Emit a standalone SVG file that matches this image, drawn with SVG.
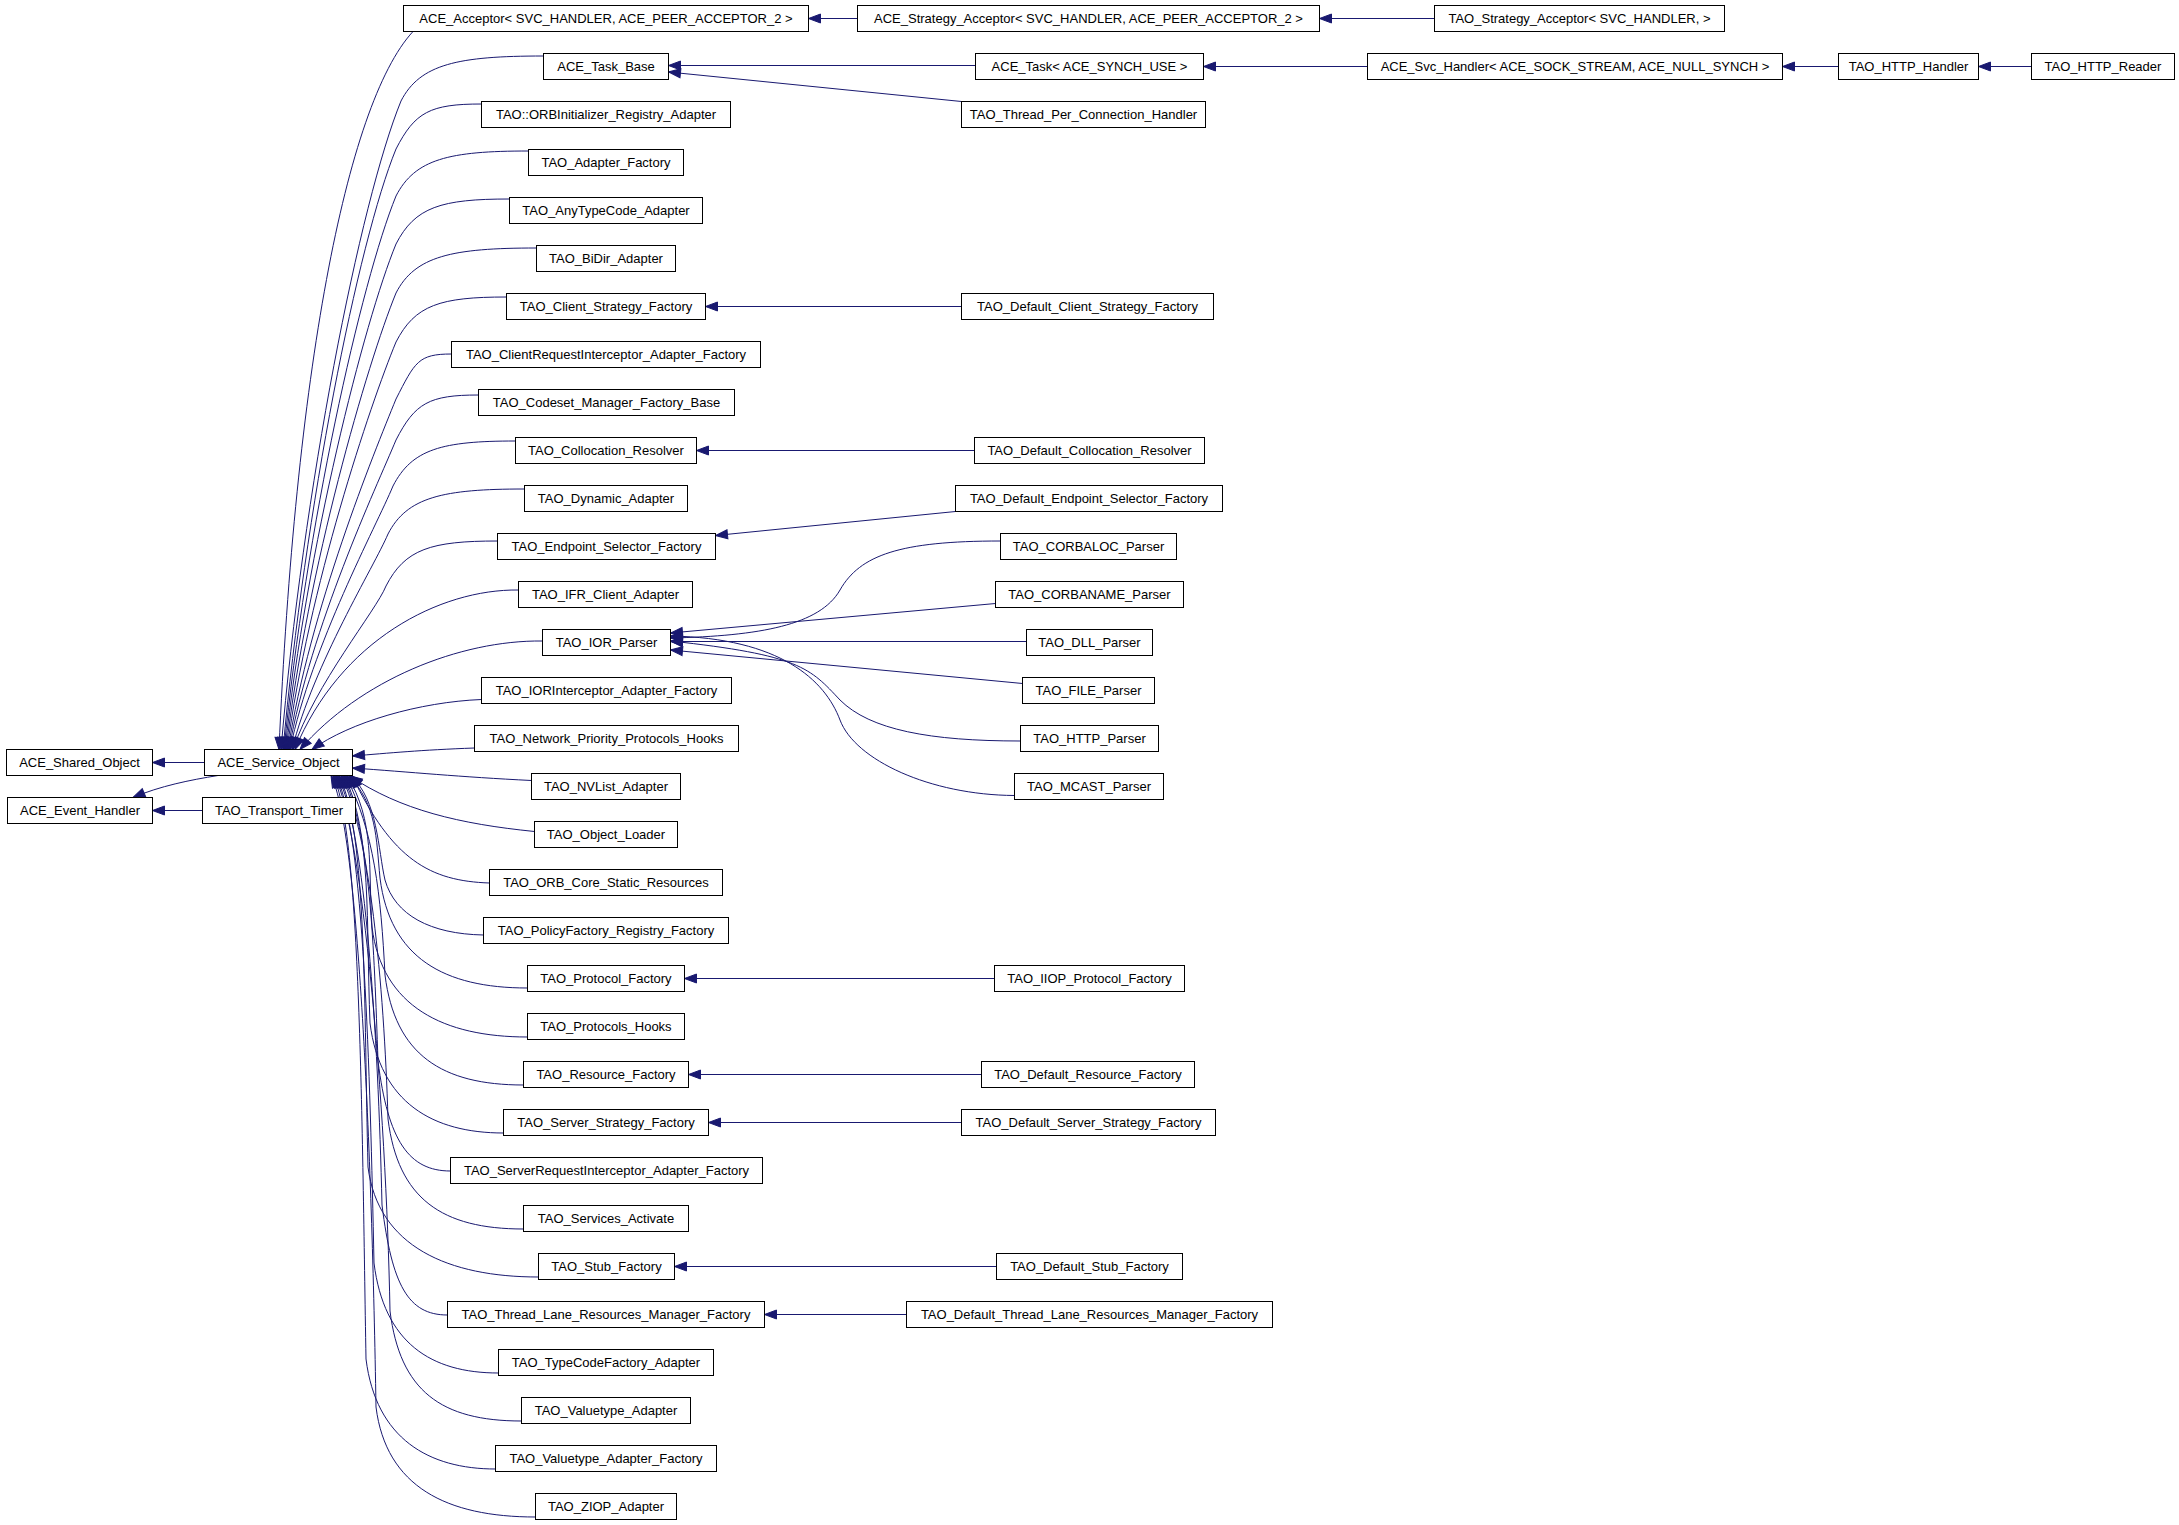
<svg xmlns="http://www.w3.org/2000/svg" width="2179" height="1525" viewBox="0 0 2179 1525">
<style>
.b{fill:#fff;stroke:#000;stroke-width:1}
.t{font-family:"Liberation Sans",Arial,sans-serif;font-size:13px;fill:#000;text-anchor:middle}
.e{fill:none;stroke:#191970;stroke-width:1;marker-end:url(#ah)}
</style>
<defs>
<marker id="ah" markerUnits="userSpaceOnUse" markerWidth="14" markerHeight="10" refX="12" refY="4.5" orient="auto" viewBox="0 0 14 10" overflow="visible">
<path d="M0,0 L12,4.5 L0,9 z" fill="#191970" stroke="#191970" stroke-width="1"/>
</marker>
</defs>
<rect width="2179" height="1525" fill="#fff"/>
<g id="connectors">
<path class="e" d="M857.5,18.5 H808.5"/>
<path class="e" d="M1434.5,18.5 H1319.5"/>
<path class="e" d="M975.5,65.5 H668.5"/>
<path class="e" d="M961.5,101.5 L668.5,72"/>
<path class="e" d="M1367.5,66.5 H1203.5"/>
<path class="e" d="M1838.5,66.5 H1782.5"/>
<path class="e" d="M2031.5,66.5 H1978.5"/>
<path class="e" d="M961.5,306.5 H705.5"/>
<path class="e" d="M974.5,450.5 H696.5"/>
<path class="e" d="M955.5,511.5 L715.5,535.5"/>
<path class="e" d="M994.5,978.5 H684.5"/>
<path class="e" d="M981.5,1074.5 H688.5"/>
<path class="e" d="M961.5,1122.5 H708.5"/>
<path class="e" d="M996.5,1266.5 H674.5"/>
<path class="e" d="M906.5,1314.5 H764.5"/>
<path class="e" d="M1000.5,541 C900,541 860,555 840,590 C820,625 760,636 670.5,638"/>
<path class="e" d="M995.5,603.5 L670.5,633"/>
<path class="e" d="M1026.5,641.5 H670.5"/>
<path class="e" d="M1022.5,683.5 L670.5,650"/>
<path class="e" d="M1020.5,741 C930,741 870,730 840,700 C810,668 800,655 670.5,641"/>
<path class="e" d="M1014.5,795.5 C930,795 855,760 840,720 C825,680 780,638 670.5,636"/>
<path class="e" d="M204.5,762.5 H152.5"/>
<path class="e" d="M202.5,810.5 H152.5"/>
<path class="e" d="M218,775.5 C190,780 160,786 133,797.5"/>
<path class="e" d="M413,31.5 C345,105 295,380 279,749.5"/>
<path class="e" d="M543.5,56 C458,56 420,64 401,101 C360,201.5 303,490 281,749.5"/>
<path class="e" d="M481.5,104 C430,104 415,112 396,149 C358,242 305,509 283,749.5"/>
<path class="e" d="M528.5,151 C449,151 415,159 396,196 C361,282 306,528 284,749.5"/>
<path class="e" d="M509.5,199 C441,199 415,207 396,244 C364,322 307,547 285,749.5"/>
<path class="e" d="M536.5,248 C452,248 415,256 396,293 C367,364 308,567 286,749.5"/>
<path class="e" d="M506.5,297 C440,297 415,305 396,342 C370,405 309,586.5 287,749.5"/>
<path class="e" d="M451.5,354 C418,354 415,362 396,399 C374,453 310,609 288,749.5"/>
<path class="e" d="M478.5,395 C429,395 415,403 396,440 C376,488 311,626 289,749.5"/>
<path class="e" d="M515.5,441 C442,441 412,449 393,486 C376,527 312,644 290,749.5"/>
<path class="e" d="M524.5,489 C443,489 407,497 388,534 C374,567 314,663 292,749.5"/>
<path class="e" d="M497.5,541 C431,541 405,549 386,586 C376,611 315,684 293,749.5"/>
<path class="e" d="M518.5,590 C440,589 340,640 295,749.5"/>
<path class="e" d="M542.5,641 C460,640 360,680 300,749.5"/>
<path class="e" d="M481.5,699.5 C420,702 350,722 312,749.5"/>
<path class="e" d="M474.5,748 C420,750 390,753 352.5,756"/>
<path class="e" d="M531.5,780.5 C460,777 410,772 352.5,768"/>
<path class="e" d="M534.5,831.5 C460,824 400,810 350,776"/>
<path class="e" d="M489.5,883 C430,881 392,860 352,775.5"/>
<path class="e" d="M483.5,935 C430,934 395,915 385,880 C378,850 378,800 350.5,775.5"/>
<path class="e" d="M527.5,988 C444,988 390,958 380,878 C376,837 377,806 349,775.5"/>
<path class="e" d="M527.5,1037 C444,1037 382,1007 372,927 C368,866 375,821 347,775.5"/>
<path class="e" d="M523.5,1085 C442,1085 395,1055 385,975 C381,895 374,830.5 345.5,775.5"/>
<path class="e" d="M503.5,1133 C433,1133 380,1103 370,1023 C366,924 372,830.5 344,775.5"/>
<path class="e" d="M450.5,1171 C409,1171 388,1141 378,1061 C374,947 370.5,830.5 342.5,775.5"/>
<path class="e" d="M523.5,1229 C442,1229 398,1199 388,1119 C384,982 369,830.5 341,775.5"/>
<path class="e" d="M538.5,1277 C449,1277 378,1247 368,1167 C364,1010 367,830.5 339,775.5"/>
<path class="e" d="M447.5,1315 C408,1315 392,1285 382,1205 C378,1033 365.5,830.5 337.5,775.5"/>
<path class="e" d="M498.5,1373 C431,1373 384,1343 374,1263 C370,1072 364,830.5 336,775.5"/>
<path class="e" d="M521.5,1421 C441,1421 400,1391 390,1311 C386,1101 362.5,830.5 334.5,775.5"/>
<path class="e" d="M495.5,1469 C429,1469 376,1439 366,1359 C362,1130 361,830.5 333,775.5"/>
<path class="e" d="M535.5,1517 C447,1517 386,1487 376,1407 C372,1158 359,830.5 331,775.5"/>
</g>
<g id="n_acceptor"><rect class="b" x="403.5" y="5.5" width="405" height="26"/><text class="t" x="606" y="23.1">ACE_Acceptor&lt; SVC_HANDLER, ACE_PEER_ACCEPTOR_2 &gt;</text></g>
<g id="n_strategy_acceptor"><rect class="b" x="857.5" y="5.5" width="462" height="26"/><text class="t" x="1088.5" y="23.1">ACE_Strategy_Acceptor&lt; SVC_HANDLER, ACE_PEER_ACCEPTOR_2 &gt;</text></g>
<g id="n_tao_strategy_acceptor"><rect class="b" x="1434.5" y="5.5" width="290" height="26"/><text class="t" x="1579.5" y="23.1">TAO_Strategy_Acceptor&lt; SVC_HANDLER, &gt;</text></g>
<g id="n_task_base"><rect class="b" x="543.5" y="53.5" width="125" height="26"/><text class="t" x="606" y="71.1">ACE_Task_Base</text></g>
<g id="n_task"><rect class="b" x="975.5" y="53.5" width="228" height="26"/><text class="t" x="1089.5" y="71.1">ACE_Task&lt; ACE_SYNCH_USE &gt;</text></g>
<g id="n_svc_handler"><rect class="b" x="1367.5" y="53.5" width="415" height="26"/><text class="t" x="1575" y="71.1">ACE_Svc_Handler&lt; ACE_SOCK_STREAM, ACE_NULL_SYNCH &gt;</text></g>
<g id="n_http_handler"><rect class="b" x="1838.5" y="53.5" width="140" height="26"/><text class="t" x="1908.5" y="71.1">TAO_HTTP_Handler</text></g>
<g id="n_http_reader"><rect class="b" x="2031.5" y="53.5" width="143" height="26"/><text class="t" x="2103" y="71.1">TAO_HTTP_Reader</text></g>
<g id="n_orbinit"><rect class="b" x="481.5" y="101.5" width="249" height="26"/><text class="t" x="606" y="119.1">TAO::ORBInitializer_Registry_Adapter</text></g>
<g id="n_tpc_handler"><rect class="b" x="961.5" y="101.5" width="244" height="26"/><text class="t" x="1083.5" y="119.1">TAO_Thread_Per_Connection_Handler</text></g>
<g id="n_adapter_factory"><rect class="b" x="528.5" y="149.5" width="155" height="26"/><text class="t" x="606" y="167.1">TAO_Adapter_Factory</text></g>
<g id="n_anytypecode"><rect class="b" x="509.5" y="197.5" width="193" height="26"/><text class="t" x="606" y="215.1">TAO_AnyTypeCode_Adapter</text></g>
<g id="n_bidir"><rect class="b" x="536.5" y="245.5" width="139" height="26"/><text class="t" x="606" y="263.1">TAO_BiDir_Adapter</text></g>
<g id="n_client_strategy"><rect class="b" x="506.5" y="293.5" width="199" height="26"/><text class="t" x="606" y="311.1">TAO_Client_Strategy_Factory</text></g>
<g id="n_def_client_strategy"><rect class="b" x="961.5" y="293.5" width="252" height="26"/><text class="t" x="1087.5" y="311.1">TAO_Default_Client_Strategy_Factory</text></g>
<g id="n_clientreq"><rect class="b" x="451.5" y="341.5" width="309" height="26"/><text class="t" x="606" y="359.1">TAO_ClientRequestInterceptor_Adapter_Factory</text></g>
<g id="n_codeset"><rect class="b" x="478.5" y="389.5" width="256" height="26"/><text class="t" x="606.5" y="407.1">TAO_Codeset_Manager_Factory_Base</text></g>
<g id="n_colloc"><rect class="b" x="515.5" y="437.5" width="181" height="26"/><text class="t" x="606" y="455.1">TAO_Collocation_Resolver</text></g>
<g id="n_def_colloc"><rect class="b" x="974.5" y="437.5" width="230" height="26"/><text class="t" x="1089.5" y="455.1">TAO_Default_Collocation_Resolver</text></g>
<g id="n_dynamic"><rect class="b" x="524.5" y="485.5" width="163" height="26"/><text class="t" x="606" y="503.1">TAO_Dynamic_Adapter</text></g>
<g id="n_def_endpoint"><rect class="b" x="955.5" y="485.5" width="267" height="26"/><text class="t" x="1089" y="503.1">TAO_Default_Endpoint_Selector_Factory</text></g>
<g id="n_endpoint"><rect class="b" x="497.5" y="533.5" width="218" height="26"/><text class="t" x="606.5" y="551.1">TAO_Endpoint_Selector_Factory</text></g>
<g id="n_corbaloc"><rect class="b" x="1000.5" y="533.5" width="176" height="26"/><text class="t" x="1088.5" y="551.1">TAO_CORBALOC_Parser</text></g>
<g id="n_ifr"><rect class="b" x="518.5" y="581.5" width="174" height="26"/><text class="t" x="605.5" y="599.1">TAO_IFR_Client_Adapter</text></g>
<g id="n_corbaname"><rect class="b" x="995.5" y="581.5" width="188" height="26"/><text class="t" x="1089.5" y="599.1">TAO_CORBANAME_Parser</text></g>
<g id="n_ior_parser"><rect class="b" x="542.5" y="629.5" width="128" height="26"/><text class="t" x="606.5" y="647.1">TAO_IOR_Parser</text></g>
<g id="n_dll"><rect class="b" x="1026.5" y="629.5" width="126" height="26"/><text class="t" x="1089.5" y="647.1">TAO_DLL_Parser</text></g>
<g id="n_iorint"><rect class="b" x="481.5" y="677.5" width="250" height="26"/><text class="t" x="606.5" y="695.1">TAO_IORInterceptor_Adapter_Factory</text></g>
<g id="n_file"><rect class="b" x="1022.5" y="677.5" width="132" height="26"/><text class="t" x="1088.5" y="695.1">TAO_FILE_Parser</text></g>
<g id="n_netprio"><rect class="b" x="474.5" y="725.5" width="264" height="26"/><text class="t" x="606.5" y="743.1">TAO_Network_Priority_Protocols_Hooks</text></g>
<g id="n_http_parser"><rect class="b" x="1020.5" y="725.5" width="138" height="26"/><text class="t" x="1089.5" y="743.1">TAO_HTTP_Parser</text></g>
<g id="n_nvlist"><rect class="b" x="531.5" y="773.5" width="149" height="26"/><text class="t" x="606" y="791.1">TAO_NVList_Adapter</text></g>
<g id="n_mcast"><rect class="b" x="1014.5" y="773.5" width="149" height="26"/><text class="t" x="1089" y="791.1">TAO_MCAST_Parser</text></g>
<g id="n_objloader"><rect class="b" x="534.5" y="821.5" width="143" height="26"/><text class="t" x="606" y="839.1">TAO_Object_Loader</text></g>
<g id="n_orbcore"><rect class="b" x="489.5" y="869.5" width="233" height="26"/><text class="t" x="606" y="887.1">TAO_ORB_Core_Static_Resources</text></g>
<g id="n_policy"><rect class="b" x="483.5" y="917.5" width="245" height="26"/><text class="t" x="606" y="935.1">TAO_PolicyFactory_Registry_Factory</text></g>
<g id="n_protocol"><rect class="b" x="527.5" y="965.5" width="157" height="26"/><text class="t" x="606" y="983.1">TAO_Protocol_Factory</text></g>
<g id="n_iiop"><rect class="b" x="994.5" y="965.5" width="190" height="26"/><text class="t" x="1089.5" y="983.1">TAO_IIOP_Protocol_Factory</text></g>
<g id="n_protohooks"><rect class="b" x="527.5" y="1013.5" width="157" height="26"/><text class="t" x="606" y="1031.1">TAO_Protocols_Hooks</text></g>
<g id="n_resource"><rect class="b" x="523.5" y="1061.5" width="165" height="26"/><text class="t" x="606" y="1079.1">TAO_Resource_Factory</text></g>
<g id="n_def_resource"><rect class="b" x="981.5" y="1061.5" width="213" height="26"/><text class="t" x="1088" y="1079.1">TAO_Default_Resource_Factory</text></g>
<g id="n_server_strategy"><rect class="b" x="503.5" y="1109.5" width="205" height="26"/><text class="t" x="606" y="1127.1">TAO_Server_Strategy_Factory</text></g>
<g id="n_def_server_strategy"><rect class="b" x="961.5" y="1109.5" width="254" height="26"/><text class="t" x="1088.5" y="1127.1">TAO_Default_Server_Strategy_Factory</text></g>
<g id="n_serverreq"><rect class="b" x="450.5" y="1157.5" width="312" height="26"/><text class="t" x="606.5" y="1175.1">TAO_ServerRequestInterceptor_Adapter_Factory</text></g>
<g id="n_services_activate"><rect class="b" x="523.5" y="1205.5" width="165" height="26"/><text class="t" x="606" y="1223.1">TAO_Services_Activate</text></g>
<g id="n_stub"><rect class="b" x="538.5" y="1253.5" width="136" height="26"/><text class="t" x="606.5" y="1271.1">TAO_Stub_Factory</text></g>
<g id="n_def_stub"><rect class="b" x="996.5" y="1253.5" width="186" height="26"/><text class="t" x="1089.5" y="1271.1">TAO_Default_Stub_Factory</text></g>
<g id="n_tlrm"><rect class="b" x="447.5" y="1301.5" width="317" height="26"/><text class="t" x="606" y="1319.1">TAO_Thread_Lane_Resources_Manager_Factory</text></g>
<g id="n_def_tlrm"><rect class="b" x="906.5" y="1301.5" width="366" height="26"/><text class="t" x="1089.5" y="1319.1">TAO_Default_Thread_Lane_Resources_Manager_Factory</text></g>
<g id="n_typecodefactory"><rect class="b" x="498.5" y="1349.5" width="215" height="26"/><text class="t" x="606" y="1367.1">TAO_TypeCodeFactory_Adapter</text></g>
<g id="n_valuetype"><rect class="b" x="521.5" y="1397.5" width="169" height="26"/><text class="t" x="606" y="1415.1">TAO_Valuetype_Adapter</text></g>
<g id="n_valuetype_factory"><rect class="b" x="495.5" y="1445.5" width="221" height="26"/><text class="t" x="606" y="1463.1">TAO_Valuetype_Adapter_Factory</text></g>
<g id="n_ziop"><rect class="b" x="535.5" y="1493.5" width="141" height="26"/><text class="t" x="606" y="1511.1">TAO_ZIOP_Adapter</text></g>
<g id="n_shared"><rect class="b" x="6.5" y="749.5" width="146" height="26"/><text class="t" x="79.5" y="767.1">ACE_Shared_Object</text></g>
<g id="n_event"><rect class="b" x="7.5" y="797.5" width="145" height="26"/><text class="t" x="80" y="815.1">ACE_Event_Handler</text></g>
<g id="n_service"><rect class="b" x="204.5" y="749.5" width="148" height="26"/><text class="t" x="278.5" y="767.1">ACE_Service_Object</text></g>
<g id="n_timer"><rect class="b" x="202.5" y="797.5" width="153" height="26"/><text class="t" x="279" y="815.1">TAO_Transport_Timer</text></g>
</svg>
